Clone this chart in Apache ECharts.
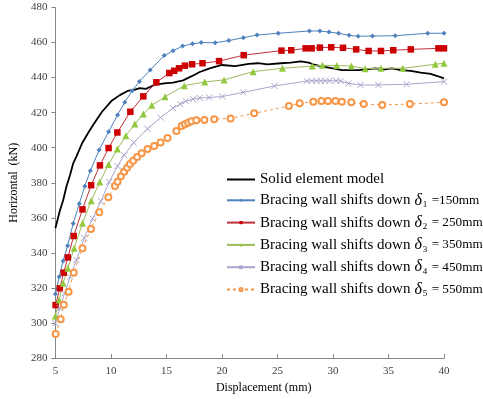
<!DOCTYPE html>
<html>
<head>
<meta charset="utf-8">
<script src="https://cdn.jsdelivr.net/npm/echarts@6/dist/echarts.min.js"></script>
<style>html,body{margin:0;padding:0;background:#fff;}#c{width:483px;height:399px;}</style>
</head>
<body>
<div id="c"></div>
<script>
var xTicks = [5, 10, 15, 20, 25, 30, 35, 40];
var yTicks = [280, 300, 320, 340, 360, 380, 400, 420, 440, 460, 480];

var seriesNames = [
  'Solid element model',
  'Bracing wall shifts down δ1 =150mm',
  'Bracing wall shifts down δ2 = 250mm',
  'Bracing wall shifts down δ3 = 350mm',
  'Bracing wall shifts down δ4 = 450mm',
  'Bracing wall shifts down δ5 = 550mm'
];

var solidX = [5.0,5.4,5.7,6.0,6.3,6.6,6.9,7.4,8.0,8.5,9.2,10.1,10.8,11.5,12.1,12.6,13.15,13.9,14.8,15.6,16.5,17.0,17.5,18.0,18.9,20.0,21.2,22.4,23.25,24.1,25.3,26.2,27.1,27.8,28.4,29.1,30.0,30.8,31.2,32.3,33.8,34.7,35.3,36.1,37.0,37.9,38.8,39.4,40.0];
var solidY = [354,364,370,378,384,391,395,402.5,409,414,420.5,427,430,432.4,433,434,433.6,435.8,436.7,437.1,438.4,440,441.5,443.2,445.3,447.2,446.6,447.8,448.2,447.6,448.2,448.5,449.3,448.5,447.2,446.2,445.3,444.3,444.3,444.3,445.3,444.7,445.3,444.3,443.8,442.8,442.1,440.9,439.6];

var d1X = [5.0,5.34,5.69,6.1,6.6,7.15,7.65,8.15,8.94,9.79,10.6,11.25,11.92,12.57,13.54,14.8,15.6,16.46,17.35,18.13,19.39,20.62,21.93,23.16,25.07,27.88,28.82,29.64,30.51,31.45,32.27,33.56,35.61,38.53,40.0];
var d1Y = [316.5,326.4,335.3,344.1,356.8,368,378,386.9,398.7,409.1,418.7,426,432.5,437.8,444.3,452.6,455.3,458.0,459.3,460.0,459.9,461.1,462.8,464.3,465.3,466.6,466.6,466.0,465.3,464.1,463.6,463.7,463.9,465.3,465.3];

var d2X = [5.02,5.4,5.75,6.12,6.65,7.44,8.22,9.01,9.79,10.58,11.75,12.92,14.09,15.26,15.7,16.14,16.66,17.31,18.25,19.74,21.96,25.36,26.24,27.53,28.08,28.82,29.84,30.9,32.09,33.21,34.32,35.43,37.01,39.5,40.0];
var d2Y = [310.2,319.8,328.7,337.4,349.6,364.8,378.6,389.9,399.8,408.7,420.5,429.3,437.3,442.6,443.9,445.3,446.8,447.6,448.2,449.4,452.8,455.4,455.6,456.7,456.7,457.1,457.3,457.0,456.1,455.2,455.2,455.6,456.1,456.7,456.7];

var d3X = [5.0,5.34,5.69,6.12,6.69,7.44,8.23,9.0,9.79,10.58,11.34,12.16,12.92,13.68,14.88,16.61,18.45,20.19,22.81,25.45,28.14,29.05,30.34,31.66,32.91,34.32,36.28,39.21,40.0];
var d3Y = [304.0,313.1,322.6,331.2,342.6,356.9,369.8,380.4,390.4,399.2,406.8,413.5,419.2,424.2,429.1,435.4,437.5,438.7,443.4,445.3,446.6,447.0,446.9,446.6,445.1,445.3,445.3,447.6,448.2];

var d4X = [5.0,5.4,5.83,6.33,6.9,7.6,8.35,9.1,9.85,10.6,11.2,12.05,13.3,14.47,15.6,16.25,16.75,17.4,18.0,18.85,20.04,21.93,24.72,27.64,28.1,28.52,28.9,29.3,29.7,30.27,30.7,31.39,32.47,34.09,36.63,40.0];
var d4Y = [299.8,308.4,316.9,326.4,335.9,348.5,359.5,369.5,380.5,389.5,395.8,402.9,410.8,417.2,422.6,424.9,426.5,427.7,428.4,428.6,429.2,431.6,435.2,438.0,438.2,438.2,438.2,438.2,438.2,438.2,438.1,436.7,435.8,435.8,436.2,437.7];

var d5X = [5.02,5.48,5.75,6.19,6.65,7.44,8.2,8.95,9.77,10.37,10.6,10.9,11.19,11.46,11.72,12.01,12.36,12.77,13.3,13.9,14.47,15.1,15.9,16.37,16.66,16.96,17.25,17.69,18.42,19.3,20.78,22.9,26.03,27.0,28.23,28.96,29.55,30.22,30.8,31.65,32.77,34.44,36.93,40.0];
var d5Y = [293.7,302.1,310.4,317.8,328.7,342.6,353.6,363.2,371.7,378.2,380.5,383.7,386.3,388.6,390.7,392.6,394.7,396.8,399.3,401.0,402.9,405.5,409.5,412.4,413.4,414.3,415.1,415.6,415.8,416.3,416.7,419.6,423.8,425.3,426.2,426.6,426.6,426.6,426.2,425.9,424.9,424.4,424.9,425.9];

function zip(xs, ys) { return xs.map(function (x, i) { return [x, ys[i]]; }); }

var SERIF = 'Liberation Serif';
var chart = echarts.init(document.getElementById('c'), null, {renderer: 'canvas'});

var legendRich = {
  t: {fontFamily: SERIF, fontSize: 15, color: '#000', lineHeight: 20},
  e: {fontFamily: SERIF, fontSize: 13.2, color: '#000', lineHeight: 20},
  d: {fontFamily: SERIF, fontSize: 16, fontStyle: 'italic', color: '#000', lineHeight: 20, padding: [0, 1, 0, 4]},
  s: {fontFamily: SERIF, fontSize: 9, color: '#000', lineHeight: 10, padding: [9, 1, 0, 0]}
};

function legendFmt(name) {
  var m = name.match(/^(.*) δ(\d)( ?= ?)(.*)$/);
  if (!m) return '{t|' + name + '}';
  return '{t|' + m[1] + '}{d|δ}{s|' + m[2] + '}{e|' + m[3] + m[4] + '}';
}

var legendData = seriesNames.map(function (n, i) {
  return i === 0 ? {name: n, itemStyle: {opacity: 0}} : {name: n};
});

var option = {
  animation: false,
  backgroundColor: '#fff',
  grid: {left: 45, right: 39, top: 7.5, bottom: 41},
  legend: {
    orient: 'vertical',
    left: 226,
    top: 172,
    padding: 0,
    itemWidth: 28,
    itemHeight: 4,
    itemGap: 4.3,
    formatter: legendFmt,
    textStyle: {fontFamily: SERIF, fontSize: 15, color: '#000', rich: legendRich},
    data: legendData
  },
  xAxis: {
    type: 'value',
    min: xTicks[0], max: xTicks[xTicks.length - 1], interval: 5,
    name: 'Displacement (mm)',
    nameLocation: 'middle',
    nameGap: 23,
    nameTextStyle: {fontFamily: SERIF, fontSize: 12, color: '#000', padding: [0, 0, 0, 28]},
    axisLine: {lineStyle: {color: '#868686', width: 1}},
    axisTick: {inside: true, length: 4, lineStyle: {color: '#868686'}},
    axisLabel: {fontFamily: SERIF, fontSize: 11, color: '#404040', margin: 8},
    splitLine: {show: false}
  },
  yAxis: {
    type: 'value',
    min: yTicks[0], max: yTicks[yTicks.length - 1], interval: 20,
    name: 'Horizontal  (kN)',
    nameLocation: 'middle',
    nameGap: 33,
    nameTextStyle: {fontFamily: SERIF, fontSize: 12, color: '#000'},
    axisLine: {show: true, lineStyle: {color: '#868686', width: 1}},
    axisTick: {show: true, length: 4, lineStyle: {color: '#868686'}},
    axisLabel: {fontFamily: SERIF, fontSize: 11, color: '#404040', margin: 8},
    splitLine: {show: false}
  },
  series: [
    {
      name: seriesNames[0], type: 'line', data: zip(solidX, solidY),
      showSymbol: false, symbol: 'none',
      lineStyle: {color: '#000', width: 1.8},
      itemStyle: {color: '#000'}, z: 3
    },
    {
      name: seriesNames[1], type: 'line', data: zip(d1X, d1Y),
      symbol: 'diamond', symbolSize: 5,
      lineStyle: {color: '#4f81bd', width: 1},
      itemStyle: {color: '#4f81bd'}
    },
    {
      name: seriesNames[2], type: 'line', data: zip(d2X, d2Y),
      symbol: 'rect', symbolSize: 6.5,
      lineStyle: {color: '#c0303a', width: 1},
      itemStyle: {color: '#cc0000'}
    },
    {
      name: seriesNames[3], type: 'line', data: zip(d3X, d3Y),
      symbol: 'triangle', symbolSize: 7,
      lineStyle: {color: '#9bbb59', width: 1},
      itemStyle: {color: '#92c83e'}
    },
    {
      name: seriesNames[4], type: 'line', data: zip(d4X, d4Y),
      symbol: 'path://M0,0L10,10M10,0L0,10', symbolSize: 6,
      lineStyle: {color: '#aaa4cc', width: 1},
      itemStyle: {color: '#aaa4cc', borderColor: '#aaa4cc', borderWidth: 1}
    },
    {
      name: seriesNames[5], type: 'line', data: zip(d5X, d5Y),
      symbol: 'emptyCircle', symbolSize: 6,
      lineStyle: {color: '#f79646', width: 1, type: [3, 3]},
      itemStyle: {color: '#f79646', borderColor: '#e8883a', borderWidth: 1}
    }
  ]
};
chart.setOption(option);
</script>
</body>
</html>
